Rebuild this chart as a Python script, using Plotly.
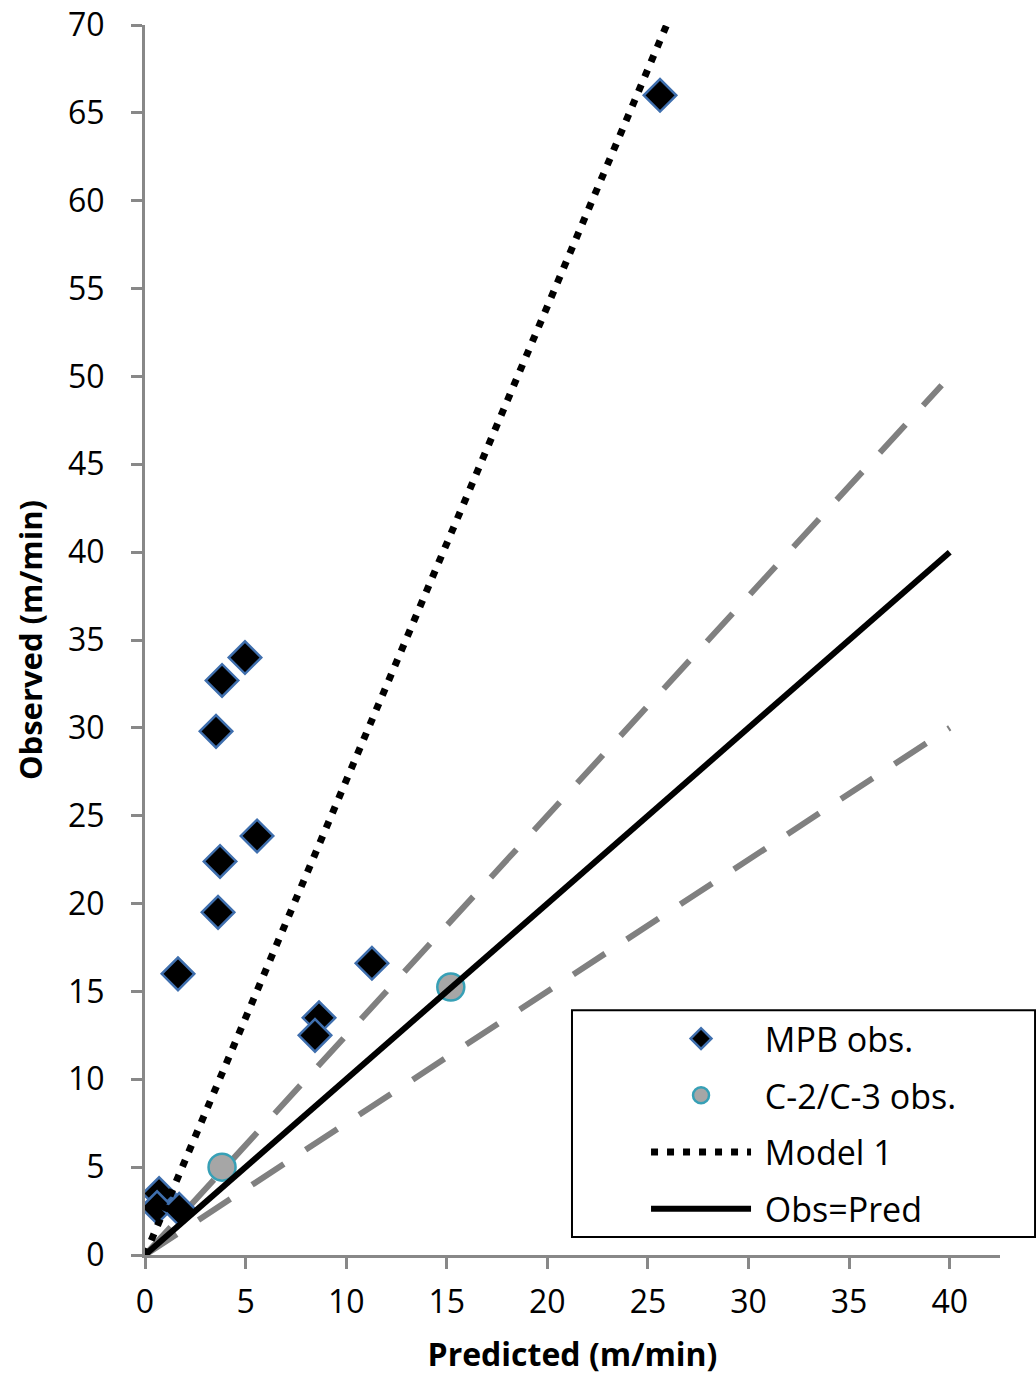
import plotly.graph_objects as go

# MPB observations (predicted, observed)
mpb_pred = [25.6, 4.97, 3.83, 3.53, 5.57, 3.73, 3.63, 1.64, 11.28, 8.65, 8.45, 0.7, 0.6, 1.7]
mpb_obs = [66.0, 34.0, 32.7, 29.8, 23.85, 22.4, 19.5, 16.0, 16.6, 13.5, 12.5, 3.5, 2.7, 2.6]

# C-2/C-3 observations
c23_pred = [3.83, 15.2]
c23_obs = [5.0, 15.25]

# Model 1 line
model1_x = [0, 25.93]
model1_y = [0, 70]

# Obs=Pred line
one_x = [0, 40]
one_y = [0, 40]

# +/-25% lines
upper_x = [0, 39.6]
upper_y = [0, 49.5]
lower_x = [0, 40]
lower_y = [0, 30]

x_ticks = [0, 5, 10, 15, 20, 25, 30, 35, 40]
y_ticks = [0, 5, 10, 15, 20, 25, 30, 35, 40, 45, 50, 55, 60, 65, 70]

FONT = "Open Sans"
NB = "\u00a0"

fig = go.Figure()

fig.add_trace(go.Scatter(x=upper_x, y=upper_y, mode="lines", showlegend=False,
                         line=dict(color="#808080", width=6, dash="38px,26px")))
fig.add_trace(go.Scatter(x=lower_x, y=lower_y, mode="lines", showlegend=False,
                         line=dict(color="#808080", width=6, dash="38px,26px")))

fig.add_trace(go.Scatter(x=mpb_pred, y=mpb_obs, mode="markers", name=NB + "MPB obs.", legendgroup="a",
                         marker=dict(symbol="diamond", size=25, color="black",
                                     line=dict(color="#3F6FAE", width=2.5))))
fig.add_trace(go.Scatter(x=c23_pred, y=c23_obs, mode="markers", name=NB + "C-2/C-3 obs.", legendgroup="b",
                         marker=dict(symbol="circle", size=27, color="#A6A6A6",
                                     line=dict(color="#37A0B6", width=2.5))))
fig.add_trace(go.Scatter(x=model1_x, y=model1_y, mode="lines", name=NB + "Model 1", legendgroup="c",
                         line=dict(color="black", width=7, dash="7px,9px")))
fig.add_trace(go.Scatter(x=one_x, y=one_y, mode="lines", name=NB + "Obs=Pred", legendgroup="d",
                         line=dict(color="black", width=6)))

axis_common = dict(showgrid=False, zeroline=False, showline=True, linecolor="#888888",
                   linewidth=3, ticks="outside", ticklen=11, tickwidth=3, tickcolor="#888888",
                   automargin=False,
                   tickfont=dict(family=FONT, size=32, color="black"))

fig.update_xaxes(range=[0, 42.5], tickvals=x_ticks, ticklabelstandoff=6, **axis_common,
                 title=dict(text="<b>Predicted (m/min)</b>", font=dict(family=FONT, size=32, color="black"),
                            standoff=26))
fig.update_yaxes(range=[0, 70], tickvals=y_ticks, ticklabelstandoff=20, **axis_common,
                 title=dict(text="<b>Observed (m/min)</b>", font=dict(family=FONT, size=31, color="black"),
                            standoff=17))

# legend frame (paper coordinates)
fig.add_shape(type="rect", xref="paper", yref="paper",
              x0=0.4994, x1=1.041, y0=0.0146, y1=0.199,
              line=dict(color="black", width=2), fillcolor="rgba(0,0,0,0)", layer="above")

fig.update_layout(
    width=1036, height=1375,
    margin=dict(l=145, r=36, t=25, b=120),
    paper_bgcolor="white", plot_bgcolor="white",
    font=dict(family=FONT, color="black"),
    legend=dict(x=0.586, y=0.1992, xanchor="left", yanchor="top",
                borderwidth=0, bgcolor="rgba(0,0,0,0)",
                font=dict(family=FONT, size=34, color="black"),
                itemwidth=100, traceorder="grouped", tracegroupgap=9.5),
)

fig.write_html("out.html")
